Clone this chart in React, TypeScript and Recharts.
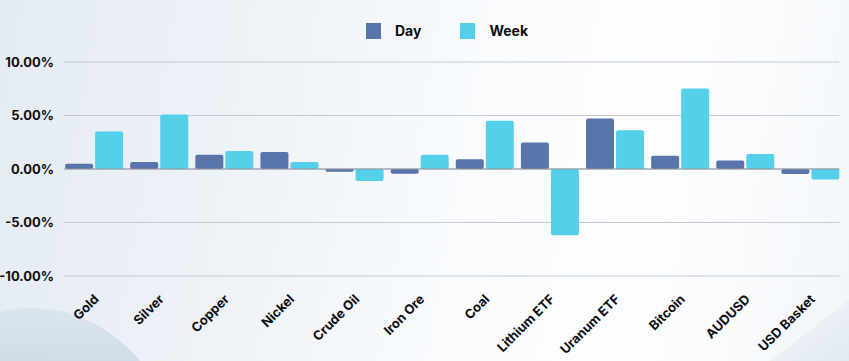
import React from "react";
import {
  BarChart,
  Bar,
  XAxis,
  YAxis,
  CartesianGrid,
  ReferenceLine,
} from "recharts";

const categories = [
  "Gold",
  "Silver",
  "Copper",
  "Nickel",
  "Crude Oil",
  "Iron Ore",
  "Coal",
  "Lithium ETF",
  "Uranum ETF",
  "Bitcoin",
  "AUDUSD",
  "USD Basket",
];
const dayValues = [0.5, 0.65, 1.33, 1.58, -0.25, -0.44, 0.9, 2.48, 4.72, 1.24, 0.8, -0.47];
const weekValues = [3.5, 5.1, 1.68, 0.65, -1.12, 1.33, 4.5, -6.19, 3.63, 7.52, 1.4, -0.97];
const yTicks = [-10, -5, 0, 5, 10];
const seriesNames = ["Day", "Week"];
const seriesColors = ["#5874aa", "#54d0ea"];

const data = categories.map((c, i) => ({
  name: c,
  Day: dayValues[i],
  Week: weekValues[i],
}));

const FONT = "Inter, 'Open Sans', sans-serif";

const XTick = (props: any) => {
  const { x, y, payload } = props;
  const ax = x + 6;
  const ay = y + 16;
  return (
    <text
      x={ax}
      y={ay}
      transform={`rotate(-45, ${ax}, ${ay})`}
      textAnchor="end"
      fontFamily={FONT}
      fontWeight={700}
      fontSize={13}
      fill="#0d0d12"
    >
      {payload.value}
    </text>
  );
};

const YTick = (props: any) => {
  const { y, payload } = props;
  return (
    <text
      x={54}
      y={y}
      dy={4.5}
      textAnchor="end"
      fontFamily={FONT}
      fontWeight={700}
      fontSize={13}
      fill="#0d0d12"
    >
      {`${payload.value.toFixed(2)}%`}
    </text>
  );
};

const LegendBox = () => (
  <div
    style={{
      position: "absolute",
      left: 366,
      top: 23,
      display: "flex",
      alignItems: "center",
      fontFamily: FONT,
      fontWeight: 700,
      fontSize: 14,
      color: "#0d0d12",
      lineHeight: "16px",
    }}
  >
    {seriesNames.map((n, i) => (
      <div
        key={n}
        style={{
          display: "flex",
          alignItems: "center",
          marginRight: i === 0 ? 39 : 0,
        }}
      >
        <div
          style={{
            width: 15,
            height: 16,
            background: seriesColors[i],
            marginRight: 14,
          }}
        />
        <span>{n}</span>
      </div>
    ))}
  </div>
);

export default function App() {
  return (
    <div
      style={{
        position: "fixed",
        left: 0,
        top: 0,
        width: 849,
        height: 361,
        overflow: "hidden",
        background:
          "linear-gradient(100deg, #e4ebf2 0%, #eef3f8 30%, #f9fbfd 55%, #fdfeff 75%, #f3f6f9 100%)",
      }}
    >
      <svg
        width={849}
        height={361}
        style={{ position: "absolute", left: 0, top: 0 }}
      >
        <defs>
          <linearGradient id="wave" x1="0" y1="0" x2="0" y2="1">
            <stop offset="0%" stopColor="#d7e3ec" />
            <stop offset="100%" stopColor="#c9d9e4" />
          </linearGradient>
          <linearGradient id="corner" x1="0" y1="0" x2="1" y2="1">
            <stop offset="0%" stopColor="#f4f7fa" />
            <stop offset="100%" stopColor="#dfe8ef" />
          </linearGradient>
        </defs>
        <path
          d="M0,312 C40,302 95,308 140,361 L0,361 Z"
          fill="url(#wave)"
          opacity={0.8}
        />
        <path d="M849,300 L849,361 L770,361 Z" fill="url(#corner)" opacity={0.9} />
      </svg>
      <LegendBox />
      <div style={{ position: "absolute", left: 0, top: 0 }}>
        <BarChart
          width={849}
          height={361}
          data={data}
          margin={{ top: 62, right: 9.7, bottom: 55, left: 0 }}
          barSize={28}
          barGap={2}
        >
          <CartesianGrid vertical={false} stroke="#c6cad0" strokeWidth={1} />
          <XAxis
            dataKey="name"
            height={30}
            axisLine={false}
            tickLine={false}
            interval={0}
            tick={<XTick />}
            padding={{ left: -3.2, right: -3.2 }}
          />
          <YAxis
            width={64.3}
            domain={[-10, 10]}
            ticks={yTicks}
            axisLine={false}
            tickLine={false}
            tick={<YTick />}
          />
          <ReferenceLine y={0} stroke="#8e9298" strokeWidth={1} />
          {seriesNames.map((n, i) => (
            <Bar
              key={n}
              dataKey={n}
              fill={seriesColors[i]}
              radius={2}
              isAnimationActive={false}
            />
          ))}
        </BarChart>
      </div>
    </div>
  );
}
